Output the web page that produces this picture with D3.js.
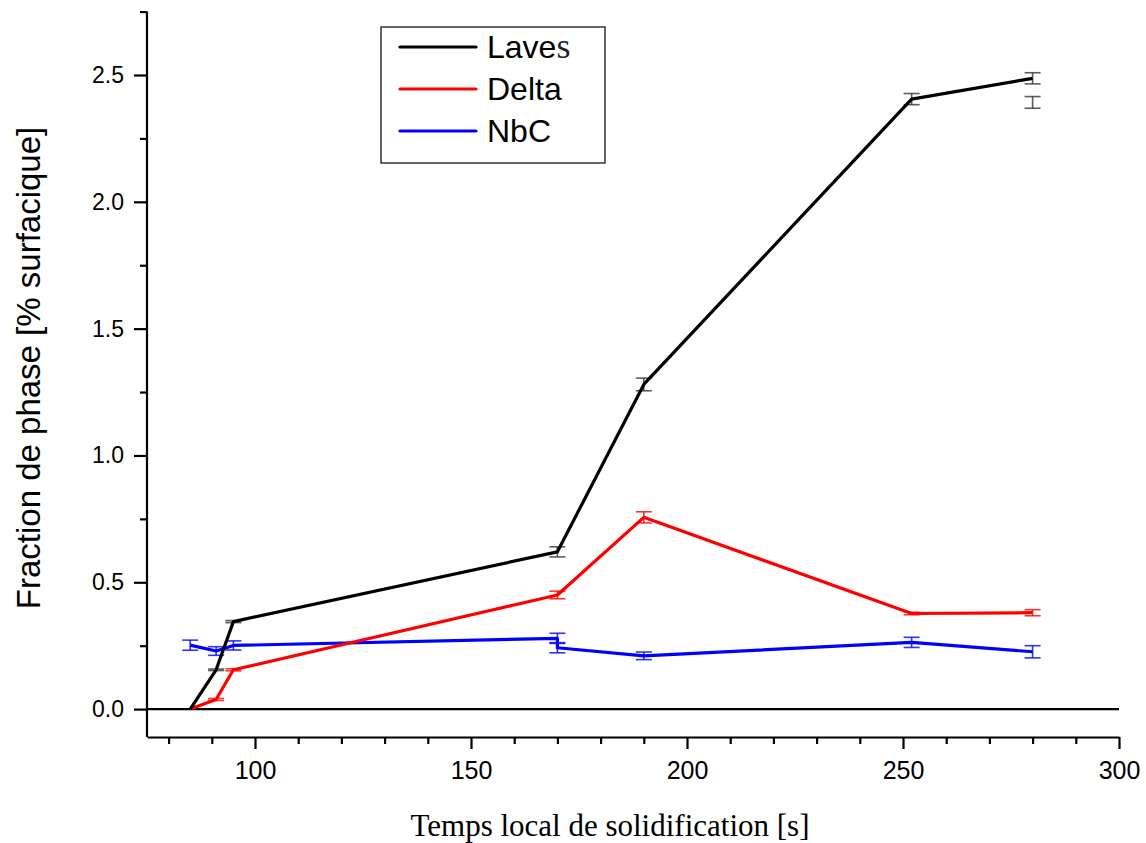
<!DOCTYPE html>
<html><head><meta charset="utf-8">
<script src="https://cdn.jsdelivr.net/npm/d3@7"></script>
<style>html,body{margin:0;padding:0;background:#fff;overflow:hidden}</style>
</head><body>
<svg id="chart" width="1146" height="843"></svg>
<script>
// ---- data ----
const lavesX = [85, 91, 95, 170, 190, 252, 280];
const lavesY = [0, 0.155, 0.345, 0.62, 1.28, 2.405, 2.487];
const lavesErr = [0, 0.003, 0.004, 0.02, 0.025, 0.022, 0.022];

const deltaX = [85, 91, 95, 170, 190, 252, 280];
const deltaY = [0, 0.038, 0.155, 0.45, 0.756, 0.377, 0.38];
const deltaErr = [0, 0.004, 0.004, 0.015, 0.022, 0.005, 0.012];

const nbcX = [85, 91, 95, 170, 170, 190, 252, 280];
const nbcY = [0.252, 0.229, 0.251, 0.279, 0.242, 0.21, 0.263, 0.226];
const nbcErr = [0.02, 0.017, 0.018, 0.02, 0.02, 0.015, 0.02, 0.024];

// isolated error bar (no line) near 280 s
const strayX = [280];
const strayY = [2.392];
const strayErr = [0.023];

const seriesNames = ["Laves", "Delta", "NbC"];
const seriesColors = ["#000000", "#ff0000", "#0000ff"];

const xMajor = [100, 150, 200, 250, 300];
const xMinor = [80, 90, 110, 120, 130, 140, 160, 170, 180, 190, 210, 220, 230, 240, 260, 270, 280, 290];
const yMajor = [0, 0.5, 1.0, 1.5, 2.0, 2.5];
const yMinor = [0.25, 0.75, 1.25, 1.75, 2.25, 2.75];

const xTitle = "Temps local de solidification [s]";
const yTitle = "Fraction de phase [% surfacique]";

// ---- layout ----
const svg = d3.select("#chart");
const pLeft = 147, pRight = 1119, pTop = 11.6, pBottom = 737;
const x = d3.scaleLinear().domain([75, 300]).range([pLeft, pRight]);
const y = d3.scaleLinear().domain([-0.11, 2.75]).range([pBottom, pTop]);

// axes
const yAxis = svg.append("g").attr("transform", `translate(${pLeft},0)`)
  .call(d3.axisLeft(y).tickValues(yMajor).tickSize(13).tickSizeOuter(0).tickPadding(10)
    .tickFormat(d3.format(".1f")));
svg.append("g").attr("transform", `translate(${pLeft},0)`)
  .call(d3.axisLeft(y).tickValues(yMinor).tickSize(7).tickSizeOuter(0).tickFormat(""))
  .select(".domain").remove();
yAxis.select(".domain").attr("d", `M0,${pTop}V${pBottom}`);

const xAxis = svg.append("g").attr("transform", `translate(0,${pBottom})`)
  .call(d3.axisBottom(x).tickValues(xMajor).tickSize(12).tickSizeOuter(0).tickPadding(12));
svg.append("g").attr("transform", `translate(0,${pBottom})`)
  .call(d3.axisBottom(x).tickValues(xMinor).tickSize(7).tickSizeOuter(0).tickFormat(""))
  .select(".domain").remove();

svg.selectAll(".domain, .tick line").attr("stroke", "#000").attr("stroke-width", 2.2);
yAxis.selectAll("text").attr("font-family", "Liberation Sans, Arial, sans-serif").attr("font-size", 23).attr("fill", "#000");
xAxis.selectAll("text").attr("font-family", "Liberation Sans, Arial, sans-serif").attr("font-size", 25).attr("fill", "#000");

// zero line
svg.append("line").attr("x1", pLeft).attr("x2", x(300)).attr("y1", y(0)).attr("y2", y(0))
  .attr("stroke", "#000").attr("stroke-width", 2.2);

// titles
svg.append("text").attr("x", 610).attr("y", 836).attr("text-anchor", "middle")
  .style("font-family", "'Liberation Serif', 'Times New Roman', serif").attr("font-size", 31)
  .attr("fill", "#000").text(xTitle);
svg.append("text").attr("transform", `translate(40,368) rotate(-90)`).attr("text-anchor", "middle")
  .attr("font-family", "Liberation Sans, Arial, sans-serif").attr("font-size", 33)
  .attr("fill", "#000").text(yTitle);

// series
const series = [
  {name: seriesNames[2], color: seriesColors[2], xs: nbcX, ys: nbcY, es: nbcErr},
  {name: seriesNames[1], color: seriesColors[1], xs: deltaX, ys: deltaY, es: deltaErr},
  {name: seriesNames[0], color: seriesColors[0], xs: lavesX, ys: lavesY, es: lavesErr},
];
const line = d3.line().x(d => x(d[0])).y(d => y(d[1]));
const capW = 8;

function drawErr(g, xs, ys, es, color) {
  const pts = xs.map((v, i) => [v, ys[i], es[i]]).filter(d => d[2] > 0);
  const eg = g.append("g").attr("stroke", color).attr("stroke-width", 1.6).attr("stroke-opacity", 0.8);
  pts.forEach(d => {
    const cx = x(d[0]), y1 = y(d[1] + d[2]), y2 = y(d[1] - d[2]);
    eg.append("line").attr("x1", cx).attr("x2", cx).attr("y1", y1).attr("y2", y2);
    eg.append("line").attr("x1", cx - capW).attr("x2", cx + capW).attr("y1", y1).attr("y2", y1);
    eg.append("line").attr("x1", cx - capW).attr("x2", cx + capW).attr("y1", y2).attr("y2", y2);
  });
}

series.forEach(s => {
  const g = svg.append("g");
  drawErr(g, s.xs, s.ys, s.es, s.color === "#000000" ? "#333" : s.color);
  g.append("path").datum(s.xs.map((v, i) => [v, s.ys[i]]))
    .attr("d", line).attr("fill", "none").attr("stroke", s.color)
    .attr("stroke-width", 3.2).attr("stroke-linejoin", "round");
});
drawErr(svg.append("g"), strayX, strayY, strayErr, "#333");

// legend
const lg = svg.append("g");
lg.append("rect").attr("x", 381).attr("y", 27).attr("width", 224).attr("height", 136)
  .attr("fill", "#fff").attr("stroke", "#000").attr("stroke-width", 1.2);
const legendY = [47, 89, 131];
seriesNames.forEach((n, i) => {
  lg.append("line").attr("x1", 400).attr("x2", 476).attr("y1", legendY[i]).attr("y2", legendY[i])
    .attr("stroke", seriesColors[i]).attr("stroke-width", 3.2).attr("stroke-linecap", "round");
  const t = lg.append("text").attr("x", 487).attr("y", legendY[i] + 11)
    .attr("font-family", "Liberation Sans, Arial, sans-serif").attr("font-size", 32).attr("fill", "#000");
  if (n === "Laves") {
    t.append("tspan").text("Lave");
    t.append("tspan").style("font-family", "'Liberation Serif', 'Times New Roman', serif")
      .style("font-size", "36px").attr("fill", "#222").text("s");
  } else {
    t.text(n);
  }
});
</script>
</body></html>
